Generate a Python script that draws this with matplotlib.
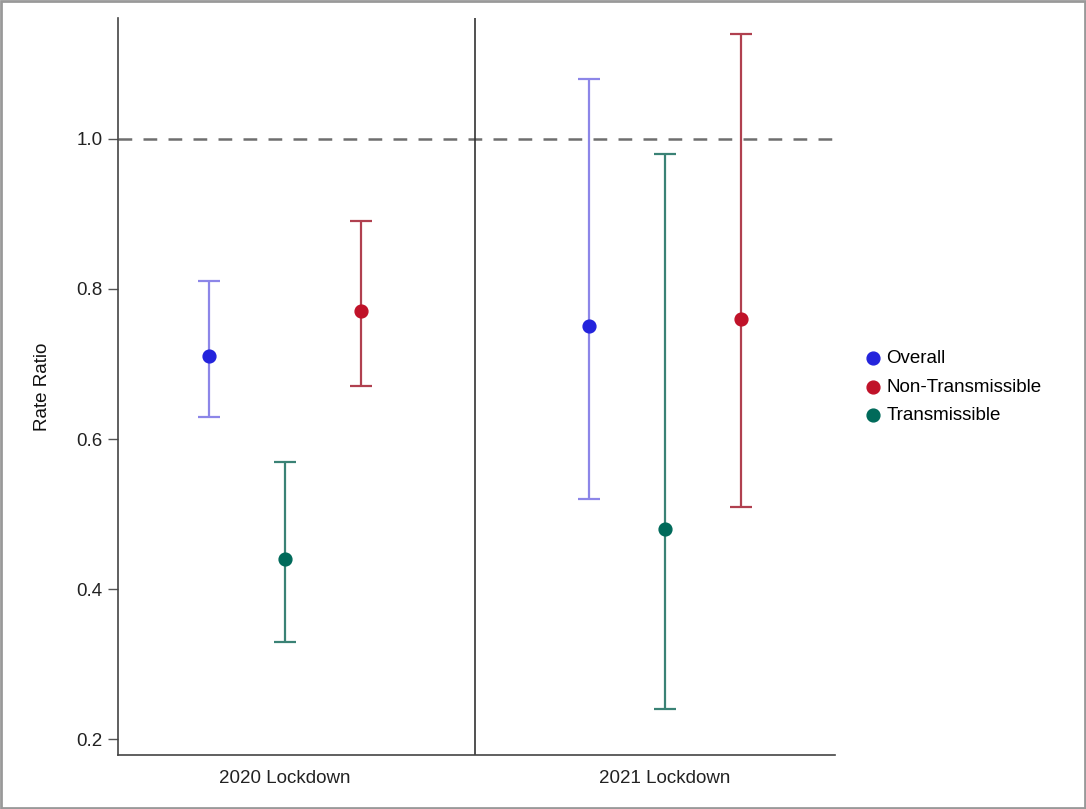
import matplotlib
matplotlib.use("Agg")
import matplotlib.pyplot as plt
from matplotlib.patches import Rectangle

plt.rcParams["font.family"] = ["Liberation Sans", "DejaVu Sans"]

periods = ["2020 Lockdown", "2021 Lockdown"]
groups = ["Overall", "Non-Transmissible", "Transmissible"]
# rate ratio, lower CI, upper CI per period
overall = [0.71, 0.75]
overall_lo = [0.63, 0.52]
overall_hi = [0.81, 1.08]
nontrans = [0.77, 0.76]
nontrans_lo = [0.67, 0.51]
nontrans_hi = [0.89, 1.14]
trans = [0.44, 0.48]
trans_lo = [0.33, 0.24]
trans_hi = [0.57, 0.98]
yticks = [0.2, 0.4, 0.6, 0.8, 1.0]

point_cols = {"Overall": "#2424dc", "Non-Transmissible": "#c01229", "Transmissible": "#006a5a"}
bar_cols = {"Overall": "#8c86e8", "Non-Transmissible": "#b0404f", "Transmissible": "#3a8275"}
offsets = {"Overall": -0.2, "Transmissible": 0.0, "Non-Transmissible": 0.2}
series = {
    "Overall": (overall, overall_lo, overall_hi),
    "Non-Transmissible": (nontrans, nontrans_lo, nontrans_hi),
    "Transmissible": (trans, trans_lo, trans_hi),
}

fig = plt.figure(figsize=(10.86, 8.09), dpi=100)
ax = fig.add_axes([118 / 1086, 1 - 755 / 809, (835 - 118) / 1086, (755 - 18) / 809])

handles = []
for g in groups:
    vals, lo, hi = series[g]
    xs = [i + 1 + offsets[g] for i in range(len(periods))]
    yerr = [[v - l for v, l in zip(vals, lo)], [h - v for v, h in zip(vals, hi)]]
    ax.errorbar(xs, vals, yerr=yerr, fmt="none", ecolor=bar_cols[g],
                elinewidth=1.6, capsize=8, capthick=1.6, zorder=2)
    h = ax.scatter(xs, vals, s=85, color=point_cols[g], zorder=3, label=g)
    handles.append(h)

ax.axhline(1.0, color="#6e6e6e", lw=1.8, ls=(0, (5.5, 4.5)), zorder=1)
ax.axvline(1.5, color="#333333", lw=1.2, zorder=1)

ax.set_xlim(0.56, 2.447)
ax.set_ylim(0.179, 1.161)
ax.set_xticks([1, 2])
ax.set_xticklabels(periods, fontsize=13.5)
ax.set_yticks(yticks)
ax.set_yticklabels([f"{t:.1f}" for t in yticks], fontsize=13.5)
ax.tick_params(axis="x", length=0, pad=11, colors="#222222")
ax.tick_params(axis="y", length=7, width=1, pad=4, colors="#555555", labelcolor="#222222")
ax.set_ylabel("Rate Ratio", fontsize=13.5, labelpad=18, color="#111111")
for s in ["top", "right"]:
    ax.spines[s].set_visible(False)
for s in ["left", "bottom"]:
    ax.spines[s].set_color("#444444")
    ax.spines[s].set_linewidth(1.2)

fig.legend(handles=handles, labels=groups, loc="center left",
           bbox_to_anchor=(845 / 1086, 1 - 387 / 809), frameon=False,
           fontsize=13.5, handletextpad=0.1, labelspacing=0.6,
           markerscale=1.0, handlelength=1.2)

fig.add_artist(Rectangle((0.001, 0.001), 0.998, 0.998, transform=fig.transFigure,
                         fill=False, edgecolor="#999999", lw=2))

fig.savefig("out.png", dpi=100)
